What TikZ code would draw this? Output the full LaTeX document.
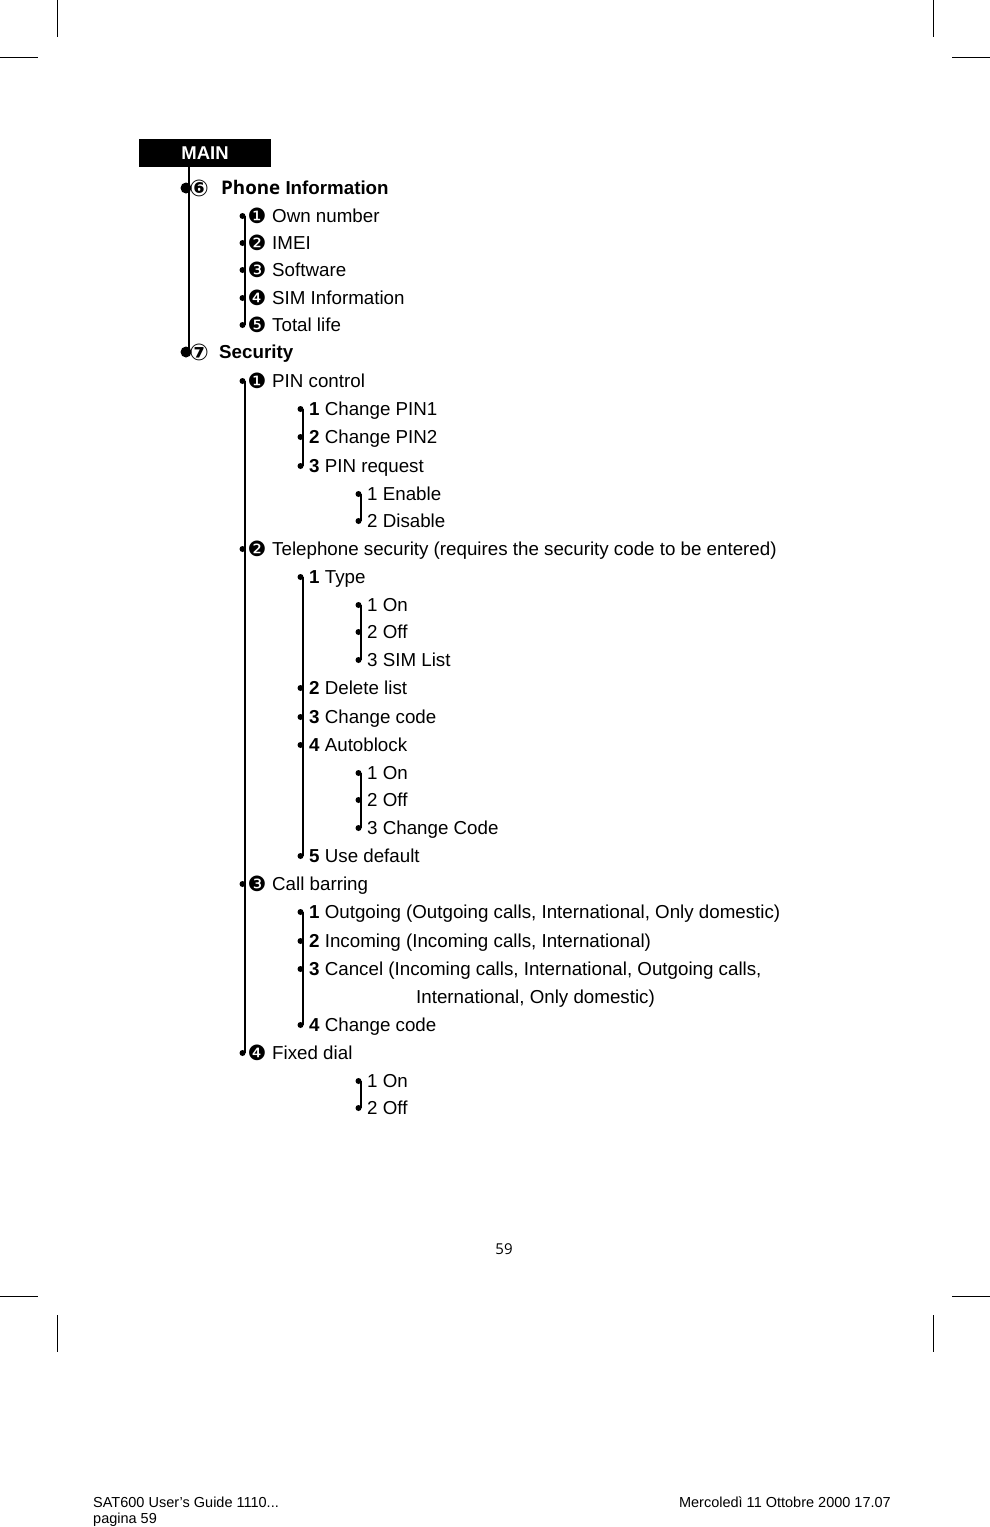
\documentclass[tikz,border=0pt]{standalone}
\usepackage{fontspec}
\setmainfont{Liberation Sans}
\newfontfamily\djv{DejaVu Sans}
\newfontfamily\osans{Open Sans}
\begin{document}
\begin{tikzpicture}[x=1pt,y=-1pt,
  txt/.style={anchor=base west,inner sep=0pt,font=\fontsize{18.75}{22}\selectfont},
  bul/.style={anchor=center,inner sep=0pt,font=\djv\fontsize{21}{22}\selectfont},
  cbul/.style={anchor=center,inner sep=0pt,font=\djv\bfseries\fontsize{23}{24}\selectfont},
  sdot/.style={circle,fill=black,inner sep=0pt,minimum size=6pt},
  bdot/.style={circle,fill=black,inner sep=0pt,minimum size=11pt},
  trunk/.style={line width=2pt},
  crop/.style={line width=1pt},
  foot/.style={inner sep=0pt,font=\fontsize{14.5}{16}\selectfont}]
\useasboundingbox (0,0) rectangle (990,1527);
% crop marks
\draw[crop] (57,0) -- (57,37);
\draw[crop] (933,0) -- (933,37);
\draw[crop] (0,57) -- (38,57);
\draw[crop] (952,57) -- (990,57);
\draw[crop] (0,1296) -- (38,1296);
\draw[crop] (952,1296) -- (990,1296);
\draw[crop] (57,1315) -- (57,1352);
\draw[crop] (933,1315) -- (933,1352);
% macros
\newcommand\Lone[4]{%
  \node[sdot] (#1d) at (242.5,#2) {};
  \node[bul] (#1b) at (257,#2) {#3};
  \node[txt] (#1) at (272,#2+6.5) {#4};}
\newcommand\Ltwo[4]{%
  \node[sdot] (#1d) at (300.5,#2) {};
  \node[txt] (#1) at (309,#2+6.5) {\bfseries #3\mdseries\ #4};}
\newcommand\Lthree[3]{%
  \node[sdot] (#1d) at (358.5,#2) {};
  \node[txt] (#1) at (367,#2+6.5) {#3};}
% MAIN
\node[fill=black,minimum width=132pt,minimum height=28pt,inner sep=0pt,
      text=white,font=\bfseries\fontsize{18.5}{20}\selectfont] (main) at (205,153) {MAIN};
% level 0
\node[bdot] (d6) at (186,188) {};
\node[cbul] (c6) at (199,188) {⑥};
\node[txt] (phone) at (221,194.5) {{\osans\bfseries Phone} {\bfseries Information}};
\node[bdot] (d7) at (186,352) {};
\node[cbul] (c7) at (199,352) {⑦};
\node[txt] (sec) at (219,358.5) {\bfseries Security};
\draw[trunk] ([xshift=3pt]d6.center |- main.south) -- ([xshift=3pt]d7.center);
% phone information
\Lone{own}{216}{❶}{Own number}
\Lone{imei}{243}{❷}{IMEI}
\Lone{soft}{270}{❸}{Software}
\Lone{siminf}{298}{❹}{SIM Information}
\Lone{life}{325}{❺}{Total life}
\draw[trunk] ([xshift=2.5pt]ownd.center) -- ([xshift=2.5pt]lifed.center);
% security
\Lone{pin}{381}{❶}{PIN control}
\Ltwo{cp1}{409}{1}{Change PIN1}
\Ltwo{cp2}{437}{2}{Change PIN2}
\Ltwo{preq}{466}{3}{PIN request}
\draw[trunk] ([xshift=2.5pt]cp1d.center) -- ([xshift=2.5pt]preqd.center);
\Lthree{en}{494}{1 Enable}
\Lthree{dis}{521}{2 Disable}
\draw[trunk] ([xshift=2.5pt]end.center) -- ([xshift=2.5pt]disd.center);
\Lone{tel}{549}{❷}{Telephone security (requires the security code to be entered)}
\Ltwo{type}{577}{1}{Type}
\Lthree{ton}{605}{1 On}
\Lthree{toff}{632}{2 Off}
\Lthree{tsim}{660}{3 SIM List}
\draw[trunk] ([xshift=2.5pt]tond.center) -- ([xshift=2.5pt]tsimd.center);
\Ltwo{del}{688}{2}{Delete list}
\Ltwo{chc}{717}{3}{Change code}
\Ltwo{auto}{745}{4}{Autoblock}
\Lthree{aon}{773}{1 On}
\Lthree{aoff}{800}{2 Off}
\Lthree{acc}{828}{3 Change Code}
\draw[trunk] ([xshift=2.5pt]aond.center) -- ([xshift=2.5pt]accd.center);
\Ltwo{use}{856}{5}{Use default}
\draw[trunk] ([xshift=2.5pt]typed.center) -- ([xshift=2.5pt]used.center);
\Lone{cb}{884}{❸}{Call barring}
\Ltwo{out}{912}{1}{Outgoing (Outgoing calls, International, Only domestic)}
\Ltwo{inc}{941}{2}{Incoming (Incoming calls, International)}
\Ltwo{canc}{969}{3}{Cancel (Incoming calls, International, Outgoing calls,}
\node[txt] (canc2) at (416,1003.5) {International, Only domestic)};
\Ltwo{cbcc}{1025}{4}{Change code}
\draw[trunk] ([xshift=2.5pt]outd.center) -- ([xshift=2.5pt]cbccd.center);
\Lone{fix}{1053}{❹}{Fixed dial}
\Lthree{fon}{1081}{1 On}
\Lthree{foff}{1108}{2 Off}
\draw[trunk] ([xshift=2.5pt]fond.center) -- ([xshift=2.5pt]foffd.center);
\draw[trunk] ([xshift=2.5pt]pind.center) -- ([xshift=2.5pt]fixd.center);
% page number and footer
\node[inner sep=0pt,font=\osans\fontsize{15}{16}\selectfont] (pg) at (504,1249) {59};
\node[foot,anchor=base west] (f1) at (93,1507) {SAT600 User's Guide 1110...};
\node[foot,anchor=base west] (f2) at (93,1523) {pagina 59};
\node[foot,anchor=base east] (f3) at (891,1507) {Mercoledì 11 Ottobre 2000 17.07};
\end{tikzpicture}
\end{document}
